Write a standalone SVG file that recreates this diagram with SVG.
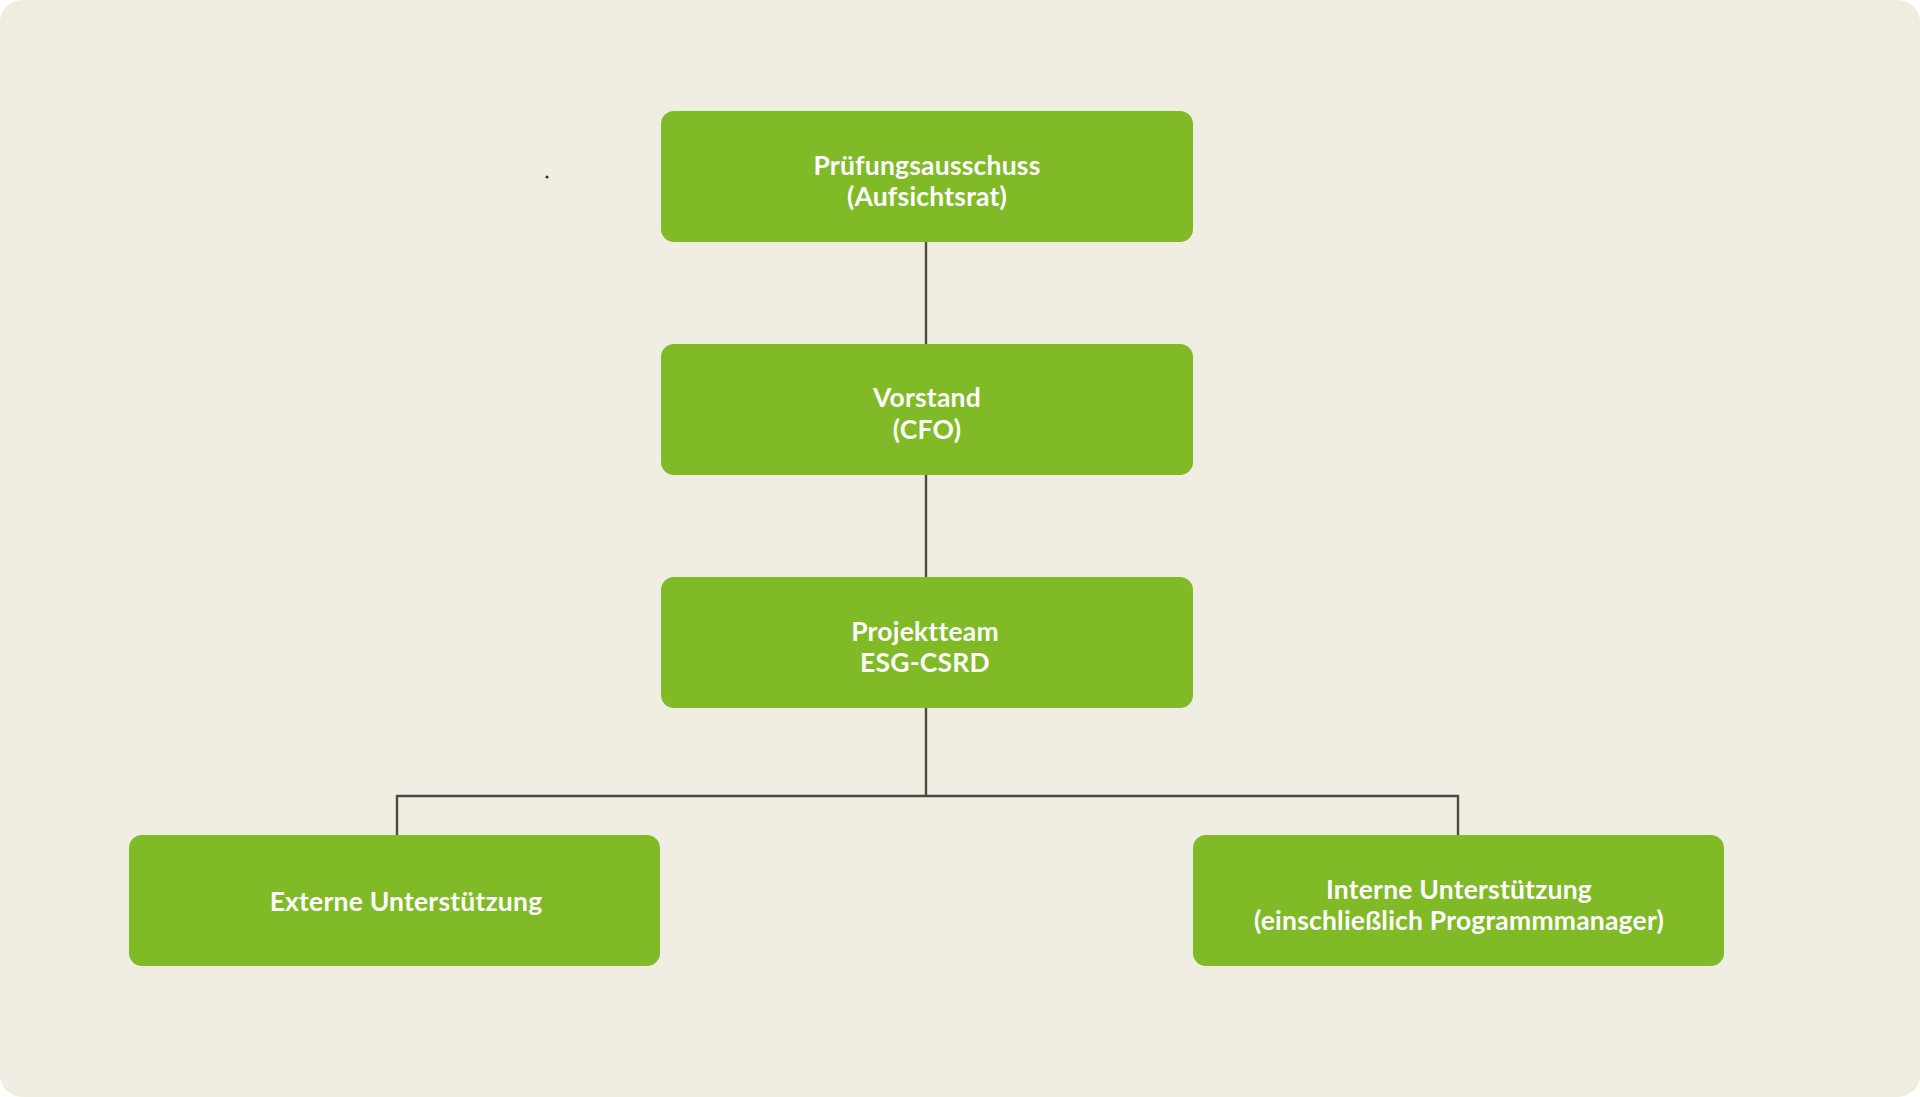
<svg xmlns="http://www.w3.org/2000/svg" width="1920" height="1097" viewBox="0 0 1920 1097">
<style>
.box{fill:#80ba27}
.t{font-family:Lato,"Open Sans",sans-serif;font-weight:700;font-size:26.5px;letter-spacing:0.2px;fill:#ffffff;text-anchor:middle}
.c{stroke:#4d4a44;stroke-width:2.4;fill:none}
</style>
<rect x="0" y="0" width="1920" height="1097" fill="#ffffff"/>
<rect x="0" y="0" width="1920" height="1097" rx="22" fill="#f0eee3"/>
<circle cx="547" cy="177" r="1.6" fill="#333333"/>
<g id="connectors">
<path class="c" d="M926 242V344"/>
<path class="c" d="M926 475V577"/>
<path class="c" d="M926 708V796"/>
<path class="c" d="M397 835V796H1458V835"/>
</g>
<g id="n1"><rect class="box" x="661" y="111" width="532" height="131" rx="13"/>
<text class="t" x="927" y="175">Prüfungsausschuss</text><text class="t" x="927" y="206">(Aufsichtsrat)</text></g>
<g id="n2"><rect class="box" x="661" y="344" width="532" height="131" rx="13"/>
<text class="t" x="927" y="407">Vorstand</text><text class="t" x="927" y="439">(CFO)</text></g>
<g id="n3"><rect class="box" x="661" y="577" width="532" height="131" rx="13"/>
<text class="t" x="925" y="641">Projektteam</text><text class="t" x="925" y="672">ESG-CSRD</text></g>
<g id="n4"><rect class="box" x="129" y="835" width="531" height="131" rx="13"/>
<text class="t" x="406" y="911">Externe Unterstützung</text></g>
<g id="n5"><rect class="box" x="1193" y="835" width="531" height="131" rx="13"/>
<text class="t" x="1459" y="899">Interne Unterstützung</text><text class="t" x="1459" y="930">(einschließlich Programmmanager)</text></g>
</svg>
